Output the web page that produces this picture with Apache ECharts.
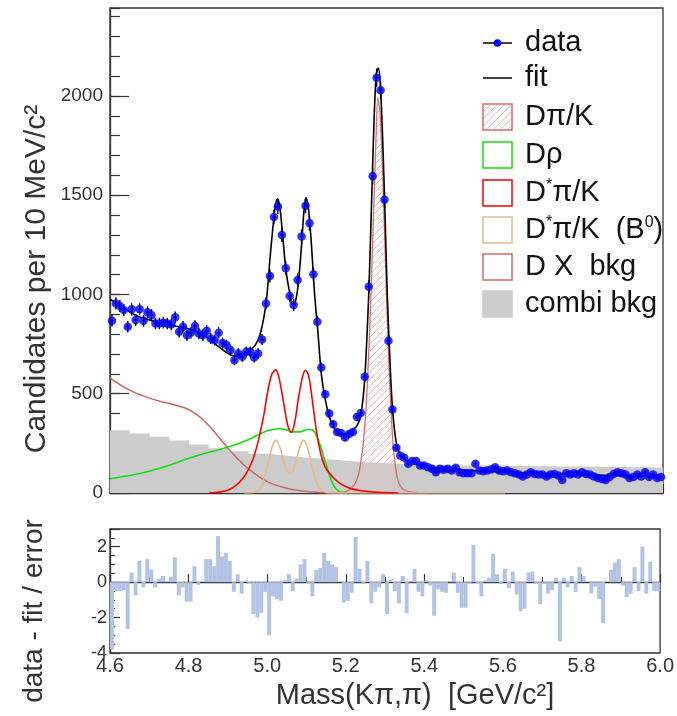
<!DOCTYPE html>
<html>
<head>
<meta charset="utf-8">
<script src="https://cdn.jsdelivr.net/npm/echarts/dist/echarts.min.js"></script>
<style>
  html, body { margin: 0; padding: 0; background: #fff; }
  #chart { width: 677px; height: 716px; }
</style>
</head>
<body>
<div id="chart"></div>
<script>
// Histogram binning: 10 MeV bins from 4.6 to 6.0 GeV
const BIN_LO = 4.6;
const BIN_W = 0.01;

// Candidates per bin
const counts = [
  868, 955, 942, 922, 837, 925, 871, 925, 868, 911,
  896, 854, 854, 858, 854, 849, 885, 812, 837, 795,
  807, 841, 804, 795, 817, 778, 770, 807, 756, 745,
  720, 669, 703, 686, 711, 711, 683, 703, 773, 955,
  1093, 1390, 1443, 1300, 1132, 992, 947, 1073, 1292, 1447,
  1359, 1102, 863, 632, 497, 400, 346, 307, 302, 279,
  297, 307, 383, 403, 585, 1039, 1595, 2092, 2029, 1477,
  767, 420, 228, 189, 178, 147, 161, 161, 139, 139,
  130, 122, 105, 122, 117, 122, 113, 127, 105, 100,
  100, 100, 147, 113, 110, 113, 118, 130, 113, 110,
  113, 105, 100, 93, 83, 93, 105, 96, 93, 93,
  83, 93, 96, 88, 66, 100, 93, 100, 93, 105,
  96, 93, 83, 76, 71, 66, 80, 96, 105, 100,
  93, 76, 80, 93, 83, 105, 80, 93, 76, 80
];

// (data - fit) / error per bin
const pulls = [
  -3.8, -0.5, -0.5, -0.45, -2.65, 0.55, -0.75, 1.2, -0.3, 1.3,
  0.7, -0.3, 0.2, 0.35, 0.05, 0.3, 1.4, -0.75, -0.3, -1.1,
  -1.1, 0.9, -0.15, 0.0, 1.3, 1.3, 0.9, 2.6, 1.45, 1.65,
  1.2, -0.55, 0.45, -0.65, 0.1, -0.1, -1.8, -2.0, -1.75, -0.55,
  -3.0, -0.8, -0.95, -1.05, 0.1, 0.45, -0.5, 0.2, 1.0, 1.3,
  -0.05, -0.8, 0.7, 0.8, 1.65, 1.2, 1.0, 0.85, 0.05, -1.15,
  -1.05, -0.6, 2.55, 0.75, -0.1, 1.2, -1.2, -0.55, -0.3, 0.45,
  -1.8, 0.15, -0.5, -1.2, 0.35, -1.75, 0.05, 0.75, -0.55, -0.8,
  0.1, -0.2, -1.9, -0.4, -0.55, -0.6, 0.05, 0.55, -0.6, -1.45,
  -1.45, -0.1, 2.1, -0.05, -0.8, 0.1, 0.25, 1.6, 0.45, -0.1,
  0.75, -0.35, 0.6, -0.7, -1.65, -1.5, 0.55, 0.6, -0.05, -1.25,
  -0.1, -0.65, -0.45, 0.25, -3.35, 0.25, -0.3, 0.35, -0.55, 0.85,
  0.35, 0.0, -0.65, -0.25, -0.95, -2.3, 0.0, 0.7, 1.1, 1.3,
  -0.2, -0.85, -0.65, 0.85, -0.5, 2.0, -0.65, 1.15, -0.5, -0.5
];

// Total fit  [mass, candidates]
const fitCurve = [
  [4.600, 975], [4.620, 955], [4.640, 925], [4.660, 900], [4.680, 883],
  [4.700, 872], [4.720, 860], [4.740, 851], [4.760, 843], [4.780, 836],
  [4.800, 826], [4.820, 812], [4.840, 792], [4.860, 762], [4.880, 730],
  [4.900, 702], [4.915, 690], [4.930, 696], [4.945, 708], [4.960, 728],
  [4.970, 752], [4.980, 800], [4.990, 890], [4.997, 990], [5.005, 1180],
  [5.012, 1330], [5.018, 1440], [5.024, 1482], [5.030, 1440], [5.037, 1300],
  [5.045, 1130], [5.055, 1005], [5.062, 945], [5.070, 970], [5.077, 1060],
  [5.085, 1250], [5.091, 1420], [5.096, 1488], [5.102, 1440], [5.110, 1250],
  [5.118, 1000], [5.126, 820], [5.135, 600], [5.145, 470], [5.155, 385],
  [5.165, 335], [5.175, 305], [5.185, 296], [5.195, 297], [5.205, 310],
  [5.215, 320], [5.225, 338], [5.235, 390], [5.245, 580], [5.255, 1000],
  [5.262, 1450], [5.268, 1850], [5.274, 2110], [5.279, 2140], [5.284, 2070],
  [5.290, 1800], [5.296, 1420], [5.302, 1000], [5.308, 700], [5.315, 430],
  [5.325, 250], [5.335, 195], [5.345, 172], [5.360, 155], [5.380, 142],
  [5.400, 133], [5.450, 122], [5.500, 115], [5.550, 110], [5.600, 105],
  [5.650, 101], [5.700, 97], [5.750, 94], [5.800, 91], [5.850, 89],
  [5.900, 87], [5.950, 85], [6.000, 83]
];

// D pi/K signal
const dpiK = [
  [5.180, 0], [5.200, 10], [5.210, 22], [5.220, 45], [5.230, 100],
  [5.238, 200], [5.243, 290], [5.248, 420], [5.253, 620], [5.258, 850],
  [5.263, 1150], [5.268, 1460], [5.273, 1760], [5.278, 1990], [5.283, 1930],
  [5.288, 1730], [5.293, 1440], [5.298, 1120], [5.303, 820], [5.308, 560],
  [5.313, 360], [5.318, 215], [5.323, 130], [5.328, 70], [5.335, 35],
  [5.345, 15], [5.360, 6], [5.380, 2], [5.400, 0]
];

// D rho
const drho = [
  [4.600, 72], [4.650, 88], [4.700, 110], [4.750, 140], [4.800, 175],
  [4.850, 205], [4.900, 232], [4.950, 268], [4.980, 298], [5.000, 315],
  [5.030, 324], [5.050, 316], [5.060, 308], [5.080, 308], [5.100, 320],
  [5.112, 318], [5.122, 292], [5.132, 240], [5.147, 145], [5.164, 46],
  [5.180, 8], [5.200, 0]
];

// D* pi/K
const dstarPiK = [
  [4.850, 0], [4.900, 15], [4.935, 70], [4.960, 160], [4.975, 260],
  [4.990, 400], [5.000, 520], [5.010, 600], [5.020, 620], [5.030, 560],
  [5.040, 450], [5.050, 340], [5.059, 305], [5.068, 360], [5.078, 490],
  [5.088, 590], [5.095, 618], [5.103, 590], [5.112, 470], [5.122, 320],
  [5.132, 210], [5.145, 130], [5.165, 78], [5.185, 45], [5.210, 22],
  [5.240, 10], [5.280, 3], [5.330, 0]
];

// D* pi/K from B0
const dstarPiKB0 = [
  [4.940, 0], [4.970, 5], [4.985, 40], [4.995, 110], [5.005, 190],
  [5.013, 245], [5.021, 265], [5.030, 230], [5.040, 160], [5.050, 105],
  [5.056, 97], [5.063, 110], [5.072, 170], [5.082, 240], [5.090, 265],
  [5.098, 240], [5.108, 165], [5.118, 80], [5.130, 28], [5.147, 3],
  [5.170, 0], [5.600, 0]
];

// D X background
const dxBkg = [
  [4.600, 580], [4.630, 540], [4.660, 508], [4.700, 478], [4.730, 460],
  [4.760, 446], [4.790, 428], [4.820, 395], [4.850, 340], [4.880, 270],
  [4.910, 200], [4.940, 140], [4.970, 92], [5.000, 55], [5.040, 28],
  [5.080, 12], [5.120, 4], [5.160, 0], [5.200, 0]
];

// Combinatorial background
const combiBkg = [
  [4.60, 316], [4.65, 300], [4.70, 283], [4.75, 264], [4.80, 244],
  [4.85, 226], [4.90, 210], [4.95, 198], [5.00, 188], [5.05, 178],
  [5.10, 170], [5.15, 162], [5.20, 155], [5.25, 150], [5.30, 146],
  [5.35, 143], [5.40, 140], [5.45, 139], [5.50, 138], [5.55, 137],
  [5.60, 136], [5.65, 135], [5.70, 134], [5.75, 133], [5.80, 132],
  [5.85, 131], [5.90, 130], [5.95, 129], [6.00, 128]
];

const FONT = '"Liberation Sans", Arial, Helvetica, sans-serif';
const FRAME = '#333';

// diagonal hatch used for the D pi/K fill
function hatchPattern(color) {
  const c = document.createElement('canvas');
  c.width = 7; c.height = 7;
  const g = c.getContext('2d');
  g.strokeStyle = color;
  g.lineWidth = 1;
  g.beginPath();
  g.moveTo(0, 7); g.lineTo(7, 0);
  g.moveTo(-3.5, 3.5); g.lineTo(3.5, -3.5);
  g.moveTo(3.5, 10.5); g.lineTo(10.5, 3.5);
  g.stroke();
  return c;
}
const HATCH = { image: hatchPattern('rgb(244,184,184)'), repeat: 'repeat' };

const dataPoints = counts.map((n, i) => [BIN_LO + (i + 0.5) * BIN_W, n]);
const pullBars = pulls.map((p, i) => [BIN_LO + i * BIN_W, BIN_LO + (i + 1) * BIN_W, p]);

// legend entries
const legendItems = [
  { text: 'data', kind: 'marker' },
  { text: 'fit', kind: 'line' },
  { text: 'Dπ/K', kind: 'box', stroke: '#d96a6a', fill: 'hatch' },
  { text: 'Dρ', kind: 'box', stroke: '#10e010', fill: '#fff' },
  { text: 'D{s|*}π/K', kind: 'box', stroke: '#ff0000', fill: '#fff' },
  { text: 'D{s|*}π/K  (B{s|0})', kind: 'box', stroke: '#e2bb8e', fill: '#fff' },
  { text: 'D X  bkg', kind: 'box', stroke: '#d06a6a', fill: '#fff' },
  { text: 'combi bkg', kind: 'box', stroke: '#cccccc', fill: '#cccccc' }
];

function legendGraphics() {
  const out = [];
  const x0 = 483, w = 29, h = 26, textX = 525;
  const rowY = [43, 78, 117, 155, 193, 230, 267, 304];
  legendItems.forEach((it, k) => {
    const cy = rowY[k];
    if (it.kind === 'marker' || it.kind === 'line') {
      out.push({ type: 'line', shape: { x1: x0, y1: cy, x2: x0 + w, y2: cy },
        style: { stroke: '#000', lineWidth: 1.5 }, z: 100 });
      if (it.kind === 'marker') {
        out.push({ type: 'circle', shape: { cx: x0 + w / 2, cy: cy, r: 3.8 },
          style: { fill: '#0000ff' }, z: 101 });
      }
    } else {
      out.push({ type: 'rect', shape: { x: x0, y: cy - h / 2, width: w, height: h },
        style: { fill: it.fill === 'hatch' ? HATCH : it.fill, stroke: it.stroke, lineWidth: 1.5 }, z: 100 });
    }
    out.push({ type: 'text', x: textX, y: cy, z: 100,
      style: { text: it.text, font: '29px ' + FONT, fill: '#111',
        align: 'left', verticalAlign: 'middle',
        rich: { s: { fontSize: 16, fontFamily: FONT, fill: '#111', verticalAlign: 'top', lineHeight: 30 } } } });
  });
  return out;
}

const chart = echarts.init(document.getElementById('chart'), null, { renderer: 'canvas' });

const axisLineStyle = { lineStyle: { color: FRAME, width: 1.3 } };

chart.setOption({
  animation: false,
  backgroundColor: '#fff',
  textStyle: { fontFamily: FONT },
  grid: [
    { left: 110, right: 14, top: 8, height: 485, show: true, borderColor: FRAME, borderWidth: 1.3 },
    { left: 110, right: 14, top: 529, height: 124, show: true, borderColor: FRAME, borderWidth: 1.3 }
  ],
  xAxis: [
    { type: 'value', gridIndex: 0, min: 4.6, max: 6.0, interval: 0.1,
      axisLine: axisLineStyle, axisLabel: { show: false },
      axisTick: { inside: true, length: 9, lineStyle: { color: FRAME, width: 1.2 } },
      splitLine: { show: false } },
    { type: 'value', gridIndex: 1, min: 4.6, max: 6.0, interval: 0.2,
      axisLine: axisLineStyle,
      axisLabel: { fontSize: 20, color: '#333', margin: 3, formatter: v => v.toFixed(1) },
      axisTick: { inside: true, length: 8, lineStyle: { color: FRAME, width: 1.2 } },
      minorTick: { show: true, splitNumber: 2, length: 5, lineStyle: { color: FRAME } },
      splitLine: { show: false } }
  ],
  yAxis: [
    { type: 'value', gridIndex: 0, min: 0, max: 2443, interval: 500,
      axisLine: axisLineStyle,
      axisLabel: { fontSize: 19, color: '#333', margin: 7, showMaxLabel: false, formatter: v => String(v) },
      axisTick: { inside: true, length: 19, lineStyle: { color: FRAME, width: 1.2 } },
      splitLine: { show: false } },
    { type: 'value', gridIndex: 0, min: 0, max: 2443, interval: 100, position: 'left',
      axisLine: { show: false }, axisLabel: { show: false },
      axisTick: { inside: true, length: 10, lineStyle: { color: FRAME, width: 1.2 } },
      splitLine: { show: false } },
    { type: 'value', gridIndex: 1, min: -4, max: 3, interval: 2,
      axisLine: axisLineStyle,
      axisLabel: { fontSize: 18, color: '#333', margin: 3, showMaxLabel: false, formatter: v => String(v) },
      axisTick: { inside: true, length: 10, lineStyle: { color: FRAME, width: 1.2 } },
      minorTick: { show: true, splitNumber: 4, length: 5, lineStyle: { color: FRAME } },
      splitLine: { show: false } }
  ],
  series: [
    { name: 'combi bkg', type: 'line', xAxisIndex: 0, yAxisIndex: 0, data: combiBkg,
      step: 'end', showSymbol: false, lineStyle: { width: 0 },
      areaStyle: { color: '#cccccc', opacity: 1 }, z: 1, silent: true },
    { name: 'Dπ/K', type: 'line', xAxisIndex: 0, yAxisIndex: 0, data: dpiK,
      smooth: 0.3, showSymbol: false, lineStyle: { color: '#d96a6a', width: 1.3 },
      areaStyle: { color: HATCH, opacity: 1 }, z: 2, silent: true },
    { name: 'D X bkg', type: 'line', xAxisIndex: 0, yAxisIndex: 0, data: dxBkg,
      smooth: 0.3, showSymbol: false, lineStyle: { color: '#cd6565', width: 1.5 }, z: 3 },
    { name: 'Dρ', type: 'line', xAxisIndex: 0, yAxisIndex: 0, data: drho,
      smooth: 0.3, showSymbol: false, lineStyle: { color: '#10e010', width: 1.6 }, z: 3 },
    { name: 'D*π/K (B0)', type: 'line', xAxisIndex: 0, yAxisIndex: 0, data: dstarPiKB0,
      smooth: 0.3, showSymbol: false, lineStyle: { color: '#e2bb8e', width: 1.6 }, z: 3 },
    { name: 'D*π/K', type: 'line', xAxisIndex: 0, yAxisIndex: 0, data: dstarPiK,
      smooth: 0.3, showSymbol: false, lineStyle: { color: '#ff0000', width: 1.6 }, z: 3 },
    { name: 'fit', type: 'line', xAxisIndex: 0, yAxisIndex: 0, data: fitCurve,
      smooth: 0.3, showSymbol: false, lineStyle: { color: '#000', width: 1.6 }, z: 4 },
    { name: 'errors', type: 'custom', xAxisIndex: 0, yAxisIndex: 0, data: dataPoints, z: 5,
      renderItem: (params, api) => {
        const x = api.value(0), y = api.value(1), e = Math.sqrt(y);
        const t = api.coord([x, y + e]), b = api.coord([x, y - e]);
        const l = api.coord([x - BIN_W / 2, y]), r = api.coord([x + BIN_W / 2, y]);
        return { type: 'group', children: [
          { type: 'line', shape: { x1: t[0], y1: t[1], x2: b[0], y2: b[1] }, style: { stroke: '#000', lineWidth: 1.4 } },
          { type: 'line', shape: { x1: l[0], y1: l[1], x2: r[0], y2: r[1] }, style: { stroke: '#000', lineWidth: 1.4 } }
        ] };
      } },
    { name: 'data', type: 'scatter', xAxisIndex: 0, yAxisIndex: 0, data: dataPoints,
      symbol: 'circle', symbolSize: 8.5, itemStyle: { color: '#0000ff' }, z: 6 },
    { name: 'pulls', type: 'custom', xAxisIndex: 1, yAxisIndex: 2, data: pullBars, clip: true,
      encode: { x: [0, 1], y: 2 },
      renderItem: (params, api) => {
        const a = api.coord([api.value(0), 0]);
        const b = api.coord([api.value(1), api.value(2)]);
        return { type: 'rect',
          shape: { x: a[0], y: Math.min(a[1], b[1]), width: b[0] - a[0], height: Math.abs(b[1] - a[1]) },
          style: { fill: '#b3c3e6' } };
      } }
  ],
  graphic: [
    { type: 'text', x: 37, y: 279, rotation: Math.PI / 2,
      style: { text: 'Candidates per 10 MeV/c²', font: '30px ' + FONT, fill: '#333', align: 'center', verticalAlign: 'middle' } },
    { type: 'text', x: 34, y: 611, rotation: Math.PI / 2,
      style: { text: 'data - fit / error', font: '28px ' + FONT, fill: '#333', align: 'center', verticalAlign: 'middle' } },
    { type: 'text', x: 415, y: 696,
      style: { text: 'Mass(Kπ,π)  [GeV/c²]', font: '29px ' + FONT, fill: '#333', align: 'center', verticalAlign: 'middle' } }
  ].concat(legendGraphics())
});
</script>
</body>
</html>
